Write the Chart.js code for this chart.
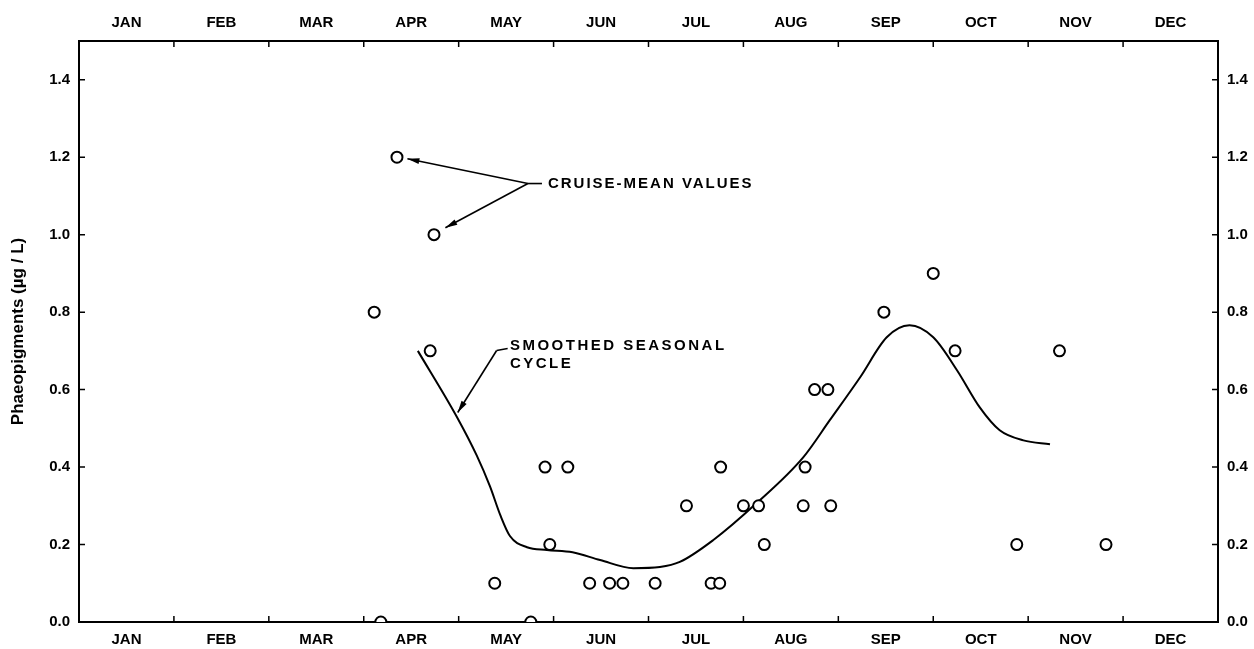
<!DOCTYPE html>
<html>
<head>
<meta charset="utf-8">
<script src="https://cdn.jsdelivr.net/npm/chart.js@4/dist/chart.umd.min.js"></script>
<style>
  body { margin: 0; background: #fff; }
  canvas { display: block; }
</style>
</head>
<body>
<canvas id="chart" width="1254" height="649"></canvas>
<script>
// month labels (x axis runs 0..12, one unit per month)
const months = ["JAN", "FEB", "MAR", "APR", "MAY", "JUN", "JUL", "AUG", "SEP", "OCT", "NOV", "DEC"];
const yTicks = [0, 0.2, 0.4, 0.6, 0.8, 1.0, 1.2, 1.4];

// cruise-mean values: time (months from 1 Jan) and phaeopigments (ug/L)
const cruiseTime = [3.11, 3.18, 3.35, 3.70, 3.74, 4.38, 4.76, 4.91, 4.96, 5.15, 5.38, 5.59, 5.73, 6.07,
  6.40, 6.66, 6.75, 6.76, 7.00, 7.16, 7.22, 7.63, 7.65, 7.75, 7.89, 7.92, 8.48, 9.00, 9.23, 9.88, 10.33, 10.82];
const cruiseValue = [0.8, 0.0, 1.2, 0.7, 1.0, 0.1, 0.0, 0.4, 0.2, 0.4, 0.1, 0.1, 0.1, 0.1,
  0.3, 0.1, 0.1, 0.4, 0.3, 0.3, 0.2, 0.3, 0.4, 0.6, 0.6, 0.3, 0.8, 0.9, 0.7, 0.2, 0.7, 0.2];

// smoothed seasonal cycle
const cycleTime = [3.57, 3.98, 4.19, 4.33, 4.44, 4.54, 4.72, 4.93, 5.20, 5.49, 5.84, 6.12, 6.33, 6.68,
  7.14, 7.63, 7.91, 8.23, 8.51, 8.75, 9.00, 9.25, 9.49, 9.70, 9.95, 10.23];
const cycleValue = [0.70, 0.53, 0.43, 0.35, 0.275, 0.222, 0.193, 0.186, 0.180, 0.160, 0.139, 0.142, 0.155, 0.211,
  0.307, 0.425, 0.521, 0.632, 0.735, 0.766, 0.735, 0.650, 0.554, 0.495, 0.469, 0.459];

const FONT = "Liberation Sans";

function monthTicks(scale) {
  scale.ticks = months.map((m, i) => ({ value: i + 0.5 }));
}
function valueTicks(scale) {
  scale.ticks = yTicks.map(v => ({ value: v }));
}

// ticks pointing into the plot, and the callout notes
const extras = {
  id: "extras",
  afterDatasetsDraw(chart) {
    const ctx = chart.ctx;
    const x = chart.scales.x, y = chart.scales.y;
    const a = chart.chartArea;
    ctx.save();
    ctx.strokeStyle = "#000";
    ctx.lineWidth = 1.5;
    ctx.beginPath();
    for (let m = 1; m < 12; m++) {
      const px = x.getPixelForValue(m);
      ctx.moveTo(px, a.top); ctx.lineTo(px, a.top + 6);
      ctx.moveTo(px, a.bottom); ctx.lineTo(px, a.bottom - 6);
    }
    yTicks.forEach(v => {
      const py = y.getPixelForValue(v);
      ctx.moveTo(a.left, py); ctx.lineTo(a.left + 6, py);
      ctx.moveTo(a.right, py); ctx.lineTo(a.right - 6, py);
    });
    ctx.stroke();

    const P = (mx, vy) => [x.getPixelForValue(mx), y.getPixelForValue(vy)];
    function arrow(from, to) {
      const [x0, y0] = P(from[0], from[1]);
      const [x1, y1] = P(to[0], to[1]);
      ctx.beginPath();
      ctx.moveTo(x0, y0); ctx.lineTo(x1, y1);
      ctx.lineWidth = 1.6;
      ctx.stroke();
      const ang = Math.atan2(y1 - y0, x1 - x0);
      const len = 12, wid = 3;
      ctx.beginPath();
      ctx.moveTo(x1, y1);
      ctx.lineTo(x1 - len * Math.cos(ang) + wid * Math.sin(ang), y1 - len * Math.sin(ang) - wid * Math.cos(ang));
      ctx.lineTo(x1 - len * Math.cos(ang) - wid * Math.sin(ang), y1 - len * Math.sin(ang) + wid * Math.cos(ang));
      ctx.closePath();
      ctx.fill();
    }
    ctx.fillStyle = "#000";
    // cruise-mean callout
    const junction = [4.73, 1.132];
    arrow(junction, [3.46, 1.196]);
    arrow(junction, [3.86, 1.018]);
    let [jx, jy] = P(junction[0], junction[1]);
    ctx.beginPath(); ctx.moveTo(jx, jy); ctx.lineTo(jx + 14, jy); ctx.stroke();
    ctx.font = "bold 15px '" + FONT + "'";
    ctx.letterSpacing = "2px";
    ctx.textBaseline = "middle";
    ctx.textAlign = "left";
    let [tx, ty] = P(4.94, 1.132);
    ctx.fillText("CRUISE-MEAN VALUES", tx, ty);

    // smoothed cycle callout
    const kink = [4.40, 0.701];
    arrow(kink, [3.99, 0.541]);
    [jx, jy] = P(kink[0], kink[1]);
    ctx.beginPath(); ctx.moveTo(jx, jy); ctx.lineTo(jx + 11, jy - 2); ctx.stroke();
    ctx.letterSpacing = "2.5px";
    [tx, ty] = P(4.54, 0.714);
    ctx.fillText("SMOOTHED SEASONAL", tx, ty);
    [tx, ty] = P(4.54, 0.666);
    ctx.fillText("CYCLE", tx, ty);
    ctx.restore();
  }
};

const tickFont = { family: FONT, size: 15, weight: "bold" };

new Chart(document.getElementById("chart"), {
  type: "scatter",
  data: {
    datasets: [
      {
        label: "Cruise-mean values",
        data: cruiseTime.map((t, i) => ({ x: t, y: cruiseValue[i] })),
        pointStyle: "circle",
        pointRadius: 5.5,
        pointBorderWidth: 2,
        pointBackgroundColor: "#fff",
        pointBorderColor: "#000",
        order: 1
      },
      {
        type: "line",
        label: "Smoothed seasonal cycle",
        data: cycleTime.map((t, i) => ({ x: t, y: cycleValue[i] })),
        borderColor: "#000",
        borderWidth: 2,
        pointRadius: 0,
        cubicInterpolationMode: "monotone",
        fill: false,
        order: 2
      }
    ]
  },
  options: {
    responsive: false,
    animation: false,
    layout: { padding: { left: 8 } },
    plugins: { legend: { display: false }, tooltip: { enabled: false } },
    scales: {
      x: {
        type: "linear", position: "bottom", min: 0, max: 12,
        afterBuildTicks: monthTicks,
        afterFit: s => { s.height = 27; },
        grid: { display: false, drawTicks: false },
        border: { display: true, color: "#000", width: 2 },
        ticks: { color: "#000", font: tickFont, padding: 9, maxRotation: 0,
          callback: (v) => months[Math.floor(v)] }
      },
      xTop: {
        type: "linear", position: "top", min: 0, max: 12,
        afterBuildTicks: monthTicks,
        afterFit: s => { s.height = 41; },
        grid: { display: false, drawTicks: false },
        border: { display: true, color: "#000", width: 2 },
        ticks: { color: "#000", font: tickFont, padding: 9, maxRotation: 0,
          callback: (v) => months[Math.floor(v)] }
      },
      y: {
        type: "linear", position: "left", min: 0, max: 1.5,
        afterBuildTicks: valueTicks,
        afterFit: s => { s.width = 71; },
        grid: { display: false, drawTicks: false },
        border: { display: true, color: "#000", width: 2 },
        title: { display: true, text: "Phaeopigments (µg / L)", color: "#000",
          font: { family: FONT, size: 17, weight: "bold" }, padding: { top: 0, bottom: 0 } },
        ticks: { color: "#000", font: tickFont, padding: 9, callback: v => v.toFixed(1) }
      },
      yRight: {
        type: "linear", position: "right", min: 0, max: 1.5,
        afterBuildTicks: valueTicks,
        afterFit: s => { s.width = 36; },
        grid: { display: false, drawTicks: false },
        border: { display: true, color: "#000", width: 2 },
        ticks: { color: "#000", font: tickFont, padding: 9, callback: v => v.toFixed(1) }
      }
    }
  },
  plugins: [extras]
});
</script>
</body>
</html>
